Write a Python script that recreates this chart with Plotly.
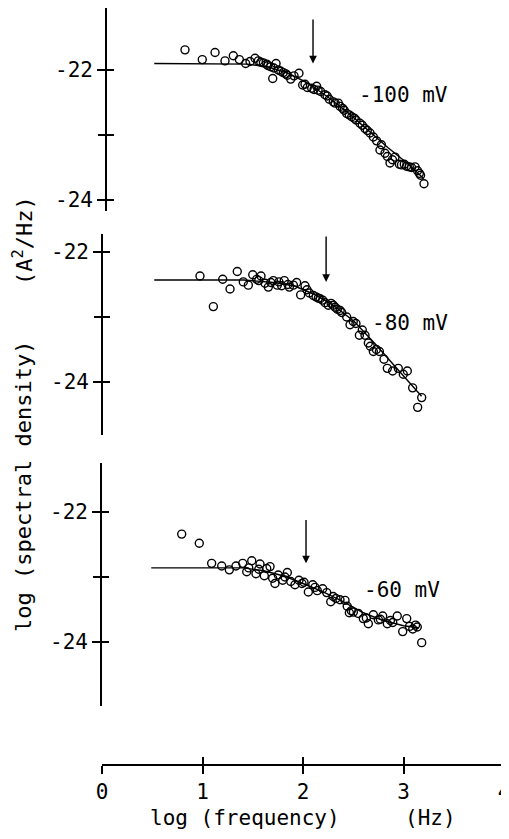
import plotly.graph_objects as go

# ---------------- data ----------------
# Panel -100 mV (top)
x_100 = [0.776, 0.948, 1.075, 1.174, 1.257, 1.317, 1.38, 1.423, 1.473, 1.506, 1.53, 1.556, 1.589,
         1.60, 1.629, 1.649, 1.66, 1.682, 1.705, 1.73, 1.754, 1.78, 1.794, 1.828, 1.861, 1.910,
         1.947, 1.97, 1.993, 2.037, 2.06, 2.086, 2.10, 2.126, 2.169, 2.19, 2.212, 2.252, 2.27,
         2.301, 2.32, 2.345, 2.36, 2.385, 2.41, 2.435, 2.46, 2.478, 2.517, 2.54, 2.567, 2.59,
         2.617, 2.65, 2.683, 2.716, 2.73, 2.766, 2.79, 2.816, 2.84, 2.866, 2.909, 2.93, 2.958,
         2.98, 3.008, 3.03, 3.065, 3.09, 3.108, 3.12, 3.154]
y_100 = [-21.69, -21.84, -21.73, -21.86, -21.78, -21.84, -21.90, -21.87, -21.82, -21.86, -21.88, -21.89, -21.91,
         -21.93, -21.95, -22.13, -21.97, -21.90, -22.00, -22.02, -22.04, -22.06, -22.08, -22.14, -22.09, -22.05,
         -22.23, -22.22, -22.27, -22.28, -22.30, -22.25, -22.31, -22.33, -22.38, -22.40, -22.45, -22.49, -22.51,
         -22.51, -22.56, -22.59, -22.62, -22.67, -22.69, -22.72, -22.74, -22.77, -22.82, -22.85, -22.90, -22.93,
         -22.97, -23.03, -23.09, -23.23, -23.15, -23.28, -23.33, -23.43, -23.38, -23.34, -23.45, -23.46, -23.45,
         -23.48, -23.49, -23.50, -23.49, -23.55, -23.59, -23.62, -23.75]
fit_x_100 = [0.47, 1.2, 1.4, 1.6, 1.8, 2.0, 2.2, 2.4, 2.6, 2.8, 3.0, 3.15]
fit_y_100 = [-21.90, -21.90, -21.91, -21.95, -22.05, -22.20, -22.42, -22.66, -22.93, -23.20, -23.45, -23.67]

# Panel -80 mV (middle)
x_80 = [0.965, 1.098, 1.191, 1.264, 1.336, 1.396, 1.446, 1.49, 1.529, 1.55, 1.572, 1.612, 1.645, 1.67,
        1.695, 1.734, 1.75, 1.778, 1.804, 1.84, 1.854, 1.894, 1.927, 1.967, 2.01, 2.03, 2.053, 2.093,
        2.12, 2.143, 2.16, 2.186, 2.21, 2.242, 2.27, 2.292, 2.31, 2.332, 2.36, 2.375, 2.425, 2.458,
        2.49, 2.517, 2.551, 2.58, 2.607, 2.64, 2.66, 2.69, 2.72, 2.75, 2.796, 2.829, 2.882, 2.938,
        2.988, 3.028, 3.081, 3.131, 3.171]
y_80 = [-22.37, -22.84, -22.42, -22.57, -22.30, -22.46, -22.51, -22.35, -22.42, -22.44, -22.37, -22.48, -22.54, -22.47,
        -22.44, -22.51, -22.46, -22.52, -22.44, -22.50, -22.54, -22.51, -22.47, -22.66, -22.52, -22.58, -22.63, -22.67,
        -22.69, -22.71, -22.72, -22.74, -22.78, -22.82, -22.79, -22.82, -22.85, -22.88, -22.90, -22.93, -23.00, -23.12,
        -23.07, -23.10, -23.28, -23.20, -23.28, -23.40, -23.45, -23.53, -23.50, -23.53, -23.65, -23.79, -23.83, -23.79,
        -23.88, -23.83, -24.09, -24.39, -24.24]
fit_x_80 = [0.51, 1.4, 1.7, 1.9, 2.1, 2.3, 2.5, 2.7, 2.9, 3.1, 3.17]
fit_y_80 = [-22.43, -22.43, -22.47, -22.52, -22.65, -22.83, -23.07, -23.40, -23.75, -24.10, -24.22]

# Panel -60 mV (bottom)
x_60 = [0.793, 0.968, 1.091, 1.191, 1.267, 1.333, 1.4, 1.44, 1.46, 1.49, 1.532, 1.56, 1.572, 1.615,
        1.639, 1.672, 1.698, 1.721, 1.754, 1.798, 1.82, 1.844, 1.878, 1.92, 1.96, 1.99, 2.01, 2.053,
        2.097, 2.12, 2.142, 2.196, 2.236, 2.276, 2.30, 2.328, 2.368, 2.418, 2.44, 2.461, 2.48, 2.501,
        2.55, 2.6, 2.63, 2.65, 2.7, 2.75, 2.77, 2.793, 2.839, 2.87, 2.893, 2.938, 2.992, 3.032,
        3.06, 3.092, 3.12, 3.137, 3.181]
y_60 = [-22.34, -22.48, -22.79, -22.83, -22.89, -22.83, -22.79, -22.92, -22.86, -22.75, -22.95, -22.88, -22.80, -22.98,
        -22.87, -22.84, -23.02, -23.10, -22.97, -23.05, -23.00, -22.93, -23.07, -23.12, -23.05, -23.10, -23.08, -23.23,
        -23.12, -23.16, -23.21, -23.18, -23.24, -23.38, -23.30, -23.33, -23.35, -23.36, -23.45, -23.55, -23.52, -23.54,
        -23.56, -23.64, -23.63, -23.72, -23.58, -23.66, -23.65, -23.60, -23.72, -23.67, -23.70, -23.60, -23.84, -23.64,
        -23.76, -23.80, -23.74, -23.77, -24.01]
fit_x_60 = [0.49, 1.4, 1.6, 1.8, 2.0, 2.2, 2.4, 2.6, 2.8, 3.0, 3.15]
fit_y_60 = [-22.86, -22.86, -22.90, -22.98, -23.10, -23.23, -23.38, -23.55, -23.67, -23.75, -23.78]

# corner-frequency arrows: x, tail y, tip y
arrow_x = [2.05, 2.22, 2.03]
arrow_tail = [-21.20, -21.74, -22.10]
arrow_tip = [-21.90, -22.46, -22.79]

labels = ["-100 mV", "-80 mV", "-60 mV"]
label_x = [2.49, 2.66, 2.59]
label_y = [-22.38, -23.09, -23.20]

x_ticks = [0, 1, 2, 3, 4]
y_label_ticks = [-22, -24]
y_label_text = ["-22", "-24"]
y_minor_ticks = [-23, -25]

# ---------------- layout geometry ----------------
# Constants below are page pixels of the 509x839 window; the page body has an 8px margin,
# so the figure itself is placed 8px in from the top-left corner (and kept short enough
# that the page does not need to scroll).
OFF = 8
W, H = 509 - OFF, 839 - 2 * OFF
FONT = "DejaVu Sans Mono"
FS = 21
PX_PER_UNIT = 65.0
X_SPAN = 402.0  # pixels for 4 decades

def fx(px):
    return min(1.0, max(0.0, (px - OFF) / W))

def fy(py):
    return min(1.0, max(0.0, 1 - (py - OFF) / H))

# panels: (axis top px, axis bottom px, pixel of -22, x of y-axis px)
panels = [
    (OFF, 211, 70, 107),
    (234, 435, 252, 103),
    (463, 706, 512, 102),
]

def ydom(top_px, bot_px):
    return [fy(bot_px), fy(top_px)]

def yrng(top_px, bot_px, p22):
    return [-22 - (bot_px - p22) / PX_PER_UNIT, -22 + (p22 - top_px) / PX_PER_UNIT]

fig = go.Figure()

series = [(x_100, y_100, fit_x_100, fit_y_100),
          (x_80, y_80, fit_x_80, fit_y_80),
          (x_60, y_60, fit_x_60, fit_y_60)]
# (x axis, main y axis, inside-tick overlay, unlabeled-outside-tick overlay)
axis_names = [("x3", "y3", "y4", "y7"), ("x2", "y2", "y5", "y8"), ("x", "y", "y6", "y9")]

for (xs, ys, lx, ly), (xa, ya, yo, yp) in zip(series, axis_names):
    fig.add_trace(go.Scatter(x=lx, y=ly, mode="lines", xaxis=xa, yaxis=ya,
                             line=dict(color="black", width=1.4), showlegend=False, hoverinfo="skip"))
    fig.add_trace(go.Scatter(x=xs, y=ys, mode="markers", xaxis=xa, yaxis=ya,
                             marker=dict(symbol="circle-open", size=8, color="black",
                                         line=dict(width=1.4, color="black")),
                             showlegend=False, cliponaxis=False))
    for extra in (yo, yp):
        fig.add_trace(go.Scatter(x=[None], y=[None], xaxis=xa, yaxis=extra,
                                 showlegend=False, hoverinfo="skip"))
fig.add_trace(go.Scatter(x=[None], y=[None], xaxis="x4", yaxis="y", showlegend=False, hoverinfo="skip"))

layout = dict(width=W, height=H, margin=dict(l=0, r=0, t=0, b=0, autoexpand=False),
              plot_bgcolor="white", paper_bgcolor="white",
              font=dict(family=FONT, color="black", size=FS), showlegend=False)

xkeys = ["xaxis3", "xaxis2", "xaxis"]
ykeys = ["yaxis3", "yaxis2", "yaxis"]
okeys = ["yaxis4", "yaxis5", "yaxis6"]
pkeys = ["yaxis7", "yaxis8", "yaxis9"]
common = dict(showgrid=False, zeroline=False, automargin=False)
for i, (top, bot, p22, x0px) in enumerate(panels):
    end_px = min(x0px + X_SPAN, OFF + W)
    dom = [fx(x0px), fx(end_px)]
    xr = [0, 4 * (end_px - x0px) / X_SPAN]
    xa, ya, yo, yp = axis_names[i]
    yd = ydom(top, bot)
    yr = yrng(top, bot, p22)
    minor = y_minor_ticks if i == 2 else y_minor_ticks[:1]
    layout[xkeys[i]] = dict(domain=dom, range=xr, visible=(i == 2), **common)
    layout[ykeys[i]] = dict(domain=yd, range=yr, anchor=xa,
                            showline=True, linecolor="black", linewidth=1.6,
                            ticks="outside", ticklen=8, tickwidth=1.6, tickcolor="black",
                            tickmode="array", tickvals=y_label_ticks, ticktext=y_label_text,
                            tickfont=dict(size=FS, family=FONT), **common)
    layout[okeys[i]] = dict(overlaying=ya, range=yr, anchor=xa, showline=False,
                            ticks="inside", ticklen=7, tickwidth=1.6, tickcolor="black",
                            tickmode="array", tickvals=y_label_ticks + minor,
                            showticklabels=False, **common)
    layout[pkeys[i]] = dict(overlaying=ya, range=yr, anchor=xa, showline=False,
                            ticks="outside", ticklen=8, tickwidth=1.6, tickcolor="black",
                            tickmode="array", tickvals=minor,
                            showticklabels=False, **common)

xpos = fy(765)
layout["xaxis"].update(dict(anchor="free", position=xpos, visible=True, showline=True,
                            linecolor="black", linewidth=1.6, ticks="outside", ticklen=8,
                            tickwidth=1.6, tickcolor="black", tickmode="array", tickvals=x_ticks,
                            ticklabeloverflow="allow",
                            tickfont=dict(size=FS, family=FONT)))
layout["xaxis4"] = dict(overlaying="x", anchor="free", position=xpos, range=layout["xaxis"]["range"],
                        domain=layout["xaxis"]["domain"], showline=False,
                        ticks="inside", ticklen=8, tickwidth=1.6, tickcolor="black",
                        tickmode="array", tickvals=x_ticks, showticklabels=False, **common)
fig.update_layout(**layout)

annotations = []
for i, (xa, ya, _, _) in enumerate(axis_names):
    annotations.append(dict(x=arrow_x[i], y=arrow_tip[i], xref=xa, yref=ya,
                            ax=arrow_x[i], ay=arrow_tail[i], axref=xa, ayref=ya,
                            showarrow=True, arrowhead=2, arrowsize=1.1, arrowwidth=1.4,
                            arrowcolor="black", text=""))
    annotations.append(dict(x=label_x[i], y=label_y[i], xref=xa, yref=ya, text=labels[i],
                            showarrow=False, xanchor="left", yanchor="middle",
                            font=dict(size=FS, family=FONT)))

annotations.append(dict(x=fx(245), y=fy(818), xref="paper", yref="paper",
                        xanchor="center", yanchor="middle",
                        text="log (frequency)", showarrow=False, font=dict(size=FS, family=FONT)))
annotations.append(dict(x=fx(430), y=fy(818), xref="paper", yref="paper",
                        xanchor="center", yanchor="middle",
                        text="(Hz)", showarrow=False, font=dict(size=FS, family=FONT)))
annotations.append(dict(x=fx(23), y=fy(487), xref="paper", yref="paper", textangle=-90,
                        xanchor="center", yanchor="middle",
                        text="log (spectral density)", showarrow=False, font=dict(size=22, family=FONT)))
annotations.append(dict(x=fx(23), y=fy(241), xref="paper", yref="paper", textangle=-90,
                        xanchor="center", yanchor="middle",
                        text="(A<sup>2</sup>/Hz)", showarrow=False, font=dict(size=22, family=FONT)))
fig.update_layout(annotations=annotations)

fig.write_html("out.html")
